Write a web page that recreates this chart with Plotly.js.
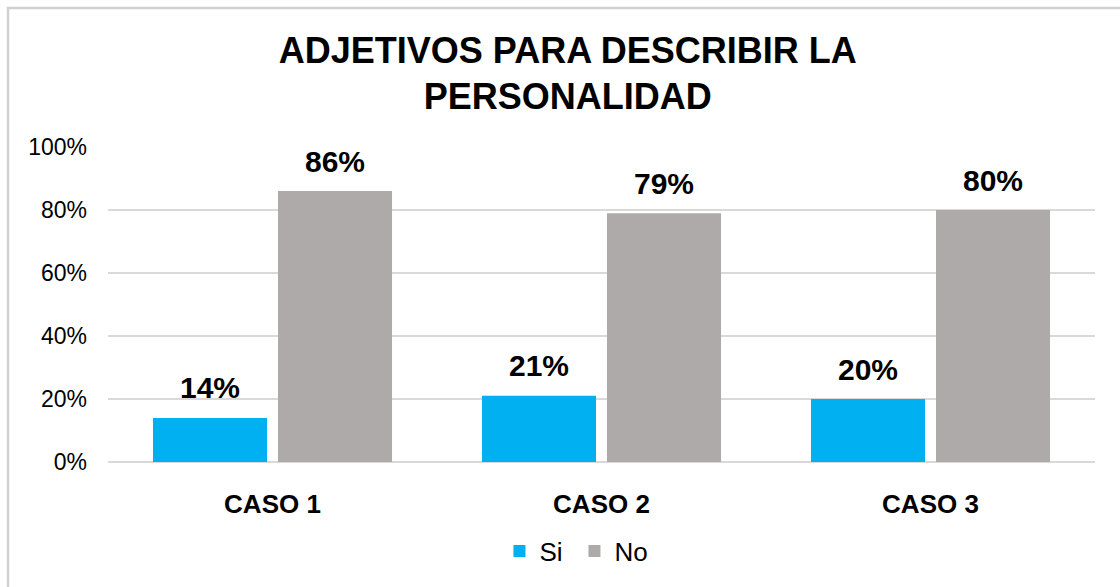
<!DOCTYPE html>
<html><head><meta charset="utf-8">
<script src="https://cdn.plot.ly/plotly-3.0.1.min.js"></script>
<style>body{margin:0;background:#fff}#c{width:1120px;height:587px}</style>
</head><body><div id="c"></div>
<script>
const categories = ["CASO 1", "CASO 2", "CASO 3"];
const si = [0.14, 0.21, 0.20];
const no = [0.86, 0.79, 0.80];
const labelsSi = ["14%", "21%", "20%"];
const labelsNo = ["86%", "79%", "80%"];

const lblFont = {family: "Liberation Sans, Arial", size: 30, color: "#000"};
const traces = [
  {type: "bar", name: "Si", x: categories, y: si, marker: {color: "#00B0F0"}, hoverinfo: "none"},
  {type: "bar", name: "No", x: categories, y: no, marker: {color: "#AEAAAA"}, hoverinfo: "none"}
];
const annotations = [];
categories.forEach((c, i) => {
  annotations.push({x: c, y: si[i], xref: "x", yref: "y", text: "<b>" + labelsSi[i] + "</b>", showarrow: false,
    xshift: -62.5, yshift: 30, yanchor: "middle", font: lblFont});
  annotations.push({x: c, y: no[i], xref: "x", yref: "y", text: "<b>" + labelsNo[i] + "</b>", showarrow: false,
    xshift: 62.5, yshift: 30, yanchor: "middle", font: lblFont});
});
const layout = {
  width: 1120, height: 587,
  margin: {l: 108, r: 25, t: 147, b: 125},
  paper_bgcolor: "#fff", plot_bgcolor: "#fff",
  font: {family: "Liberation Sans, Arial", color: "#000"},
  title: {text: "<b>ADJETIVOS PARA DESCRIBIR LA<br>PERSONALIDAD</b>", x: 0.507, xanchor: "center",
          y: 0.8935, yanchor: "middle", font: {size: 36, color: "#000"}},
  barmode: "group", bargap: 0.24, bargroupgap: 0.088,
  xaxis: {type: "category", tickfont: {size: 26, color: "#000"}, showline: false, ticks: "",
          tickprefix: "<b>", ticksuffix: "</b>", ticklabelstandoff: 24},
  yaxis: {range: [0, 1], tickvals: [0, 0.2, 0.4, 0.6, 0.8, 1.0], ticktext: ["0%","20%","40%","60%","80%","100%"],
          tickfont: {size: 23, color: "#000"}, gridcolor: "#d9d9d9", gridwidth: 1.5, zeroline: true,
          zerolinecolor: "#d9d9d9", zerolinewidth: 1.5, ticks: "", ticklen: 0, automargin: false,
          ticklabelstandoff: 20},
  annotations: annotations,
  showlegend: true,
  legend: {orientation: "h", x: 0.4726, xanchor: "center", y: -0.283, yanchor: "middle",
           font: {size: 26, color: "#000"}, itemwidth: 30, entrywidth: 30},
  shapes: [{type: "rect", xref: "paper", yref: "paper", x0: -0.1013, x1: 1.1, y0: -0.6, y1: 1.441,
            line: {color: "#d0d0d0", width: 2.5}}]
};
Plotly.newPlot("c", traces, layout, {displayModeBar: false, staticPlot: true});
</script></body></html>
